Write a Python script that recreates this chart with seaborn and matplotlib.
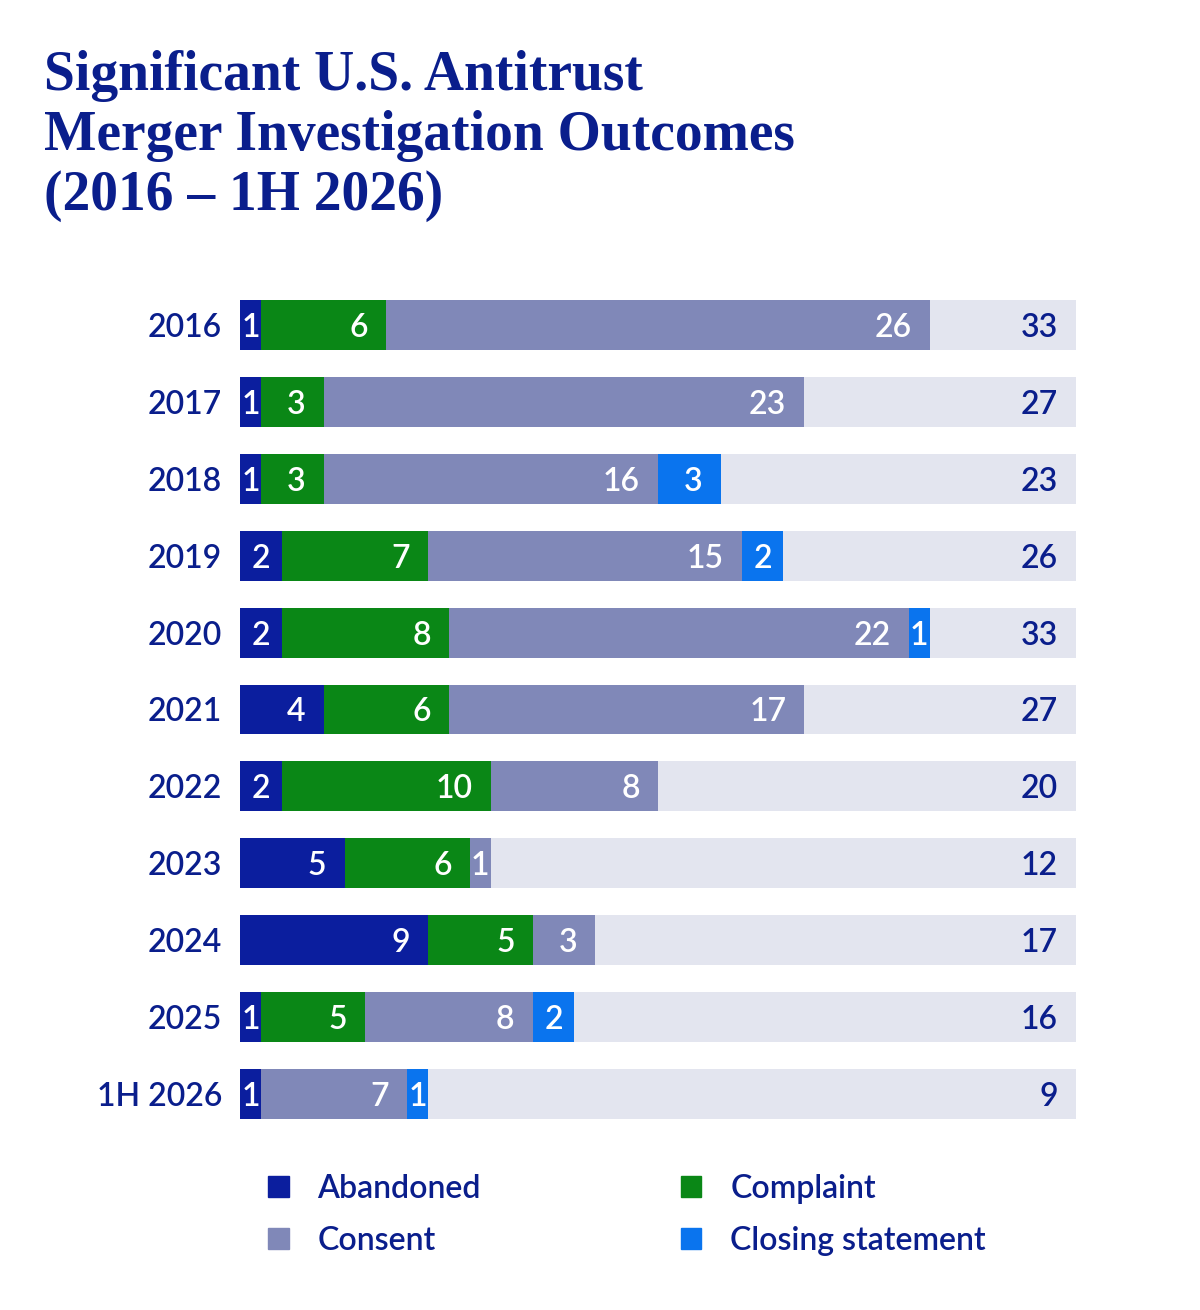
import numpy as np
import pandas as pd
import matplotlib.pyplot as plt
import matplotlib.patches as mpatches
import seaborn as sns

sns.set_theme(style="white")
plt.rcParams['font.family'] = ['Lato', 'DejaVu Sans']

# data
years = ['2016', '2017', '2018', '2019', '2020', '2021', '2022', '2023', '2024', '2025', '1H 2026']
abandoned = [1, 1, 1, 2, 2, 4, 2, 5, 9, 1, 1]
complaint = [6, 3, 3, 7, 8, 6, 10, 6, 5, 5, 0]
consent = [26, 23, 16, 15, 22, 17, 8, 1, 3, 8, 7]
closing = [0, 0, 3, 2, 1, 0, 0, 0, 0, 2, 1]
categories = ['Abandoned', 'Complaint', 'Consent', 'Closing statement']

colors = ['#0B1E9E', '#0A8716', '#8088B8', '#0A74EE']
bg_color = '#E3E5EF'
navy = '#0A1E8C'
fs = 23

df = pd.DataFrame({'year': years, 'Abandoned': abandoned, 'Complaint': complaint,
                   'Consent': consent, 'Closing statement': closing})
df['total'] = df[categories].sum(axis=1)
cum = df[categories].cumsum(axis=1)

fig = plt.figure(figsize=(12, 13.1), dpi=100)
ax = fig.add_axes([0.2, 0.1355, 0.6967, 0.6458])

# background track
sns.barplot(x=[40] * len(years), y=years, color=bg_color, width=0.65,
            saturation=1, ax=ax, orient='h', linewidth=0)
# stacked bars, drawn from the largest cumulative value down
for cat, col in zip(categories[::-1], colors[::-1]):
    sns.barplot(x=cum[cat], y=df['year'], color=col, width=0.65,
                saturation=1, ax=ax, orient='h', linewidth=0)

ax.set_xlim(0, 40)
ax.set_ylim(len(years) - 0.5, -0.5)
ax.set_xlabel('')
ax.set_ylabel('')
ax.set_xticks([])
sns.despine(ax=ax, left=True, bottom=True)
ax.tick_params(axis='y', length=0, pad=13, labelsize=fs, labelcolor=navy)
for lbl in ax.get_yticklabels():
    lbl.set_fontweight('semibold')

# segment labels
px = 40 / (0.6967 * 1200)
for i, row in df.iterrows():
    for cat in categories:
        v = row[cat]
        if v == 0:
            continue
        end = cum.loc[i, cat]
        if v >= 3:
            ax.text(end - 18 * px, i, str(v), ha='right', va='center_baseline',
                    color='white', fontsize=fs, fontweight='semibold')
        else:
            ax.text(end - v / 2, i, str(v), ha='center', va='center_baseline',
                    color='white', fontsize=fs, fontweight='semibold')
    ax.text(40 - 18 * px, i, str(row['total']), ha='right', va='center_baseline',
            color=navy, fontsize=fs, fontweight='semibold')

# title
fig.text(44 / 1200, 1 - 50 / 1310, 'Significant U.S. Antitrust\nMerger Investigation Outcomes\n(2016 – 1H 2026)',
         ha='left', va='top', fontsize=40, fontweight='bold', color=navy,
         family=['Liberation Serif', 'DejaVu Serif'], linespacing=1.2)

# legend
handles = [mpatches.Patch(color=c, label=l) for c, l in zip(colors, categories)]
order = [0, 2, 1, 3]
leg = fig.legend([handles[k] for k in order], [categories[k] for k in order],
                 loc='upper left', bbox_to_anchor=(252 / 1200, 1 - 1158 / 1310),
                 ncol=2, frameon=False, fontsize=fs, handlelength=0.65, handleheight=0.65,
                 handletextpad=0.9, columnspacing=6.25, labelspacing=0.68, borderpad=0)
for t in leg.get_texts():
    t.set_color(navy)
    t.set_fontweight('semibold')

fig.savefig('out.png', dpi=100, facecolor='white')
